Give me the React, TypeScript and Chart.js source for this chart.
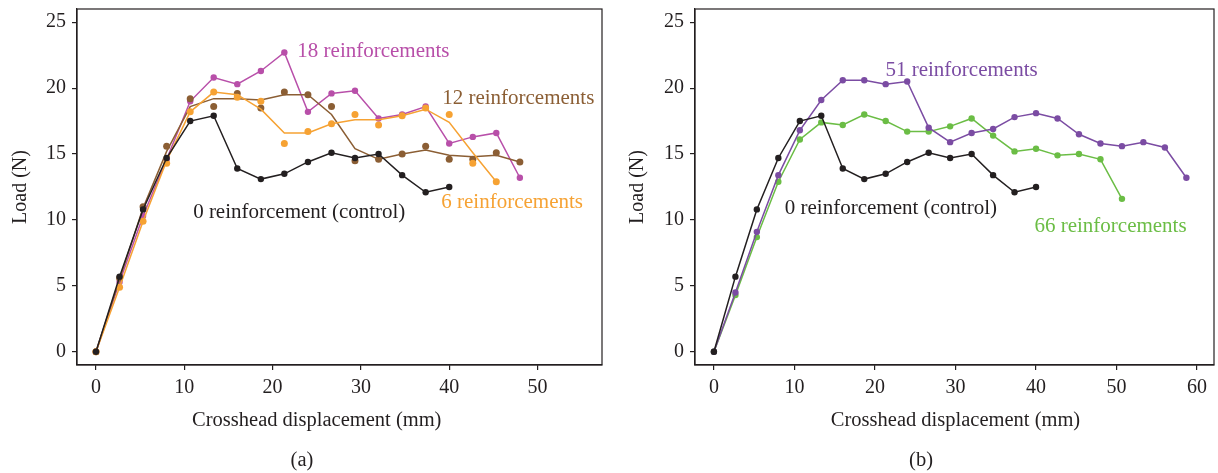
import React, { useEffect, useRef } from "react";
import { Chart, registerables } from "chart.js";

Chart.register(...registerables);

// ---------- data ----------
const xControl = [0, 2.67, 5.33, 8, 10.67, 13.33, 16, 18.67, 21.33, 24, 26.67, 29.33, 32, 34.67, 37.33, 40];
const loadControl = [0, 5.7, 10.8, 14.7, 17.5, 17.9, 13.9, 13.1, 13.5, 14.4, 15.1, 14.7, 15.0, 13.4, 12.1, 12.5];

const x18 = [0, 2.67, 5.33, 8, 10.67, 13.33, 16, 18.67, 21.33, 24, 26.67, 29.33, 32, 34.67, 37.33, 40, 42.67, 45.33, 48];
const load18 = [0, 5.3, 10.3, 14.6, 19.0, 20.8, 20.3, 21.3, 22.7, 18.2, 19.6, 19.8, 17.7, 18.0, 18.6, 15.8, 16.3, 16.6, 13.2];

const x12 = [0, 2.67, 5.33, 8, 10.67, 13.33, 16, 18.67, 21.33, 24, 26.67, 29.33, 32, 34.67, 37.33, 40, 42.67, 45.33, 48];
const load12Dots = [0, 5.6, 11.0, 15.6, 19.2, 18.6, 19.6, 18.5, 19.7, 19.5, 18.6, 14.5, 14.6, 15.0, 15.6, 14.6, 14.6, 15.1, 14.4];
const load12Line = [0, 5.5, 10.9, 15.2, 18.6, 19.2, 19.2, 19.1, 19.5, 19.5, 18.0, 15.4, 14.6, 15.0, 15.3, 14.9, 14.8, 14.9, 14.4];

const x6 = [0, 2.67, 5.33, 8, 10.67, 13.33, 16, 18.67, 21.33, 24, 26.67, 29.33, 32, 34.67, 37.33, 40, 42.67, 45.33];
const load6Dots = [0, 4.9, 9.9, 14.3, 18.2, 19.7, 19.3, 19.0, 15.8, 16.7, 17.3, 18.0, 17.2, 17.9, 18.5, 18.0, 14.3, 12.9];
const load6Line = [0, 4.9, 9.9, 14.5, 18.2, 19.7, 19.5, 18.4, 16.6, 16.6, 17.3, 17.6, 17.6, 17.9, 18.4, 17.4, 15.1, 12.9];

const x51 = [0, 2.67, 5.33, 8, 10.67, 13.33, 16, 18.67, 21.33, 24, 26.67, 29.33, 32, 34.67, 37.33, 40, 42.67, 45.33, 48, 50.67, 53.33, 56, 58.67];
const load51 = [0, 4.5, 9.1, 13.4, 16.8, 19.1, 20.6, 20.6, 20.3, 20.5, 17.0, 15.9, 16.6, 16.9, 17.8, 18.1, 17.7, 16.5, 15.8, 15.6, 15.9, 15.5, 13.2];

const x66 = [0, 2.67, 5.33, 8, 10.67, 13.33, 16, 18.67, 21.33, 24, 26.67, 29.33, 32, 34.67, 37.33, 40, 42.67, 45.33, 48, 50.67];
const load66 = [0, 4.3, 8.7, 12.9, 16.1, 17.4, 17.2, 18.0, 17.5, 16.7, 16.7, 17.1, 17.7, 16.4, 15.2, 15.4, 14.9, 15.0, 14.6, 11.6];

const xTicksA = [0, 10, 20, 30, 40, 50];
const xTicksB = [0, 10, 20, 30, 40, 50, 60];
const yTicks = [0, 5, 10, 15, 20, 25];

// ---------- styles ----------
const INK = "#231f20";
const C_CONTROL = "#231f20";
const C_18 = "#b84fa9";
const C_12 = "#8b5e34";
const C_6 = "#f6a233";
const C_51 = "#7b4ca3";
const C_66 = "#6bbd45";
const FONT = "'Liberation Serif', 'DejaVu Serif', serif";

const pts = (xs: number[], ys: number[]) => xs.map((x, i) => ({ x, y: ys[i] }));

function lineDs(label: string, data: any[], color: string, withPoints = true) {
  return {
    label,
    data,
    borderColor: color,
    backgroundColor: color,
    borderWidth: 1.5,
    pointRadius: withPoints ? 3.2 : 0,
    pointBorderWidth: 0,
    pointBackgroundColor: color,
    tension: 0,
    showLine: true,
  };
}
function dotDs(label: string, data: any[], color: string) {
  return {
    label,
    data,
    borderColor: color,
    backgroundColor: color,
    pointRadius: 3.5,
    pointBorderWidth: 0,
    pointBackgroundColor: color,
    showLine: false,
  };
}

type Note = { text: string; x: number; y: number; color: string };

function makePlugin(notes: Note[], titleCenterValue: number, captionX: number, caption: string) {
  return {
    id: "extras",
    afterDraw(chart: any) {
      const ctx = chart.ctx;
      const { left, right, top, bottom } = chart.chartArea;
      const xs = chart.scales.x;
      const ys = chart.scales.y;
      ctx.save();
      ctx.strokeStyle = INK;
      ctx.lineWidth = 1.2;
      ctx.strokeRect(left, top, right - left, bottom - top);
      ctx.font = `21px ${FONT}`;
      ctx.textBaseline = "middle";
      for (const n of notes) {
        ctx.fillStyle = n.color;
        ctx.textAlign = "left";
        ctx.fillText(n.text, xs.getPixelForValue(n.x), ys.getPixelForValue(n.y));
      }
      ctx.font = `20.5px ${FONT}`;
      ctx.fillStyle = INK;
      ctx.textAlign = "center";
      ctx.fillText("Crosshead displacement (mm)", xs.getPixelForValue(titleCenterValue), 421);
      ctx.fillText(caption, captionX, 461);
      ctx.restore();
    },
  };
}

function baseOptions(xMin: number, xMax: number, xTicks: number[], padLeft: number, padRight: number, titlePad: number) {
  return {
    animation: false,
    responsive: false,
    devicePixelRatio: 1,
    layout: { padding: { left: padLeft, right: padRight, top: 9, bottom: 0 } },
    plugins: { legend: { display: false }, tooltip: { enabled: false } },
    scales: {
      x: {
        type: "linear",
        min: xMin,
        max: xMax,
        afterBuildTicks: (s: any) => {
          s.ticks = xTicks.map((v) => ({ value: v }));
        },
        afterFit: (s: any) => {
          s.height = 108;
          s.paddingLeft = 0;
          s.paddingRight = 0;
        },
        grid: { drawOnChartArea: false, drawTicks: true, tickLength: 5, color: INK, lineWidth: 1.2 },
        border: { display: true, color: INK, width: 1.2 },
        ticks: { color: INK, font: { family: FONT, size: 20 }, padding: 6, maxRotation: 0 },
      },
      y: {
        type: "linear",
        min: -1,
        max: 26,
        afterBuildTicks: (s: any) => {
          s.ticks = yTicks.map((v) => ({ value: v }));
        },
        afterFit: (s: any) => {
          s.width = 77;
          s.paddingTop = 0;
          s.paddingBottom = 0;
        },
        grid: { drawOnChartArea: false, drawTicks: true, tickLength: 5, color: INK, lineWidth: 1.2 },
        border: { display: true, color: INK, width: 1.2 },
        ticks: { color: INK, font: { family: FONT, size: 20 }, padding: 6 },
        title: {
          display: true,
          text: "Load (N)",
          color: INK,
          font: { family: FONT, size: 20 },
          padding: { top: titlePad, bottom: 0 },
        },
      },
    },
  };
}

function Panel({ config, left }: { config: any; left: number }) {
  const ref = useRef<HTMLCanvasElement>(null);
  useEffect(() => {
    if (!ref.current) return;
    const chart = new Chart(ref.current, config);
    return () => chart.destroy();
  }, [config]);
  return (
    <canvas
      ref={ref}
      width={609}
      height={473}
      style={{ position: "absolute", left, top: 0, width: 609, height: 473 }}
    />
  );
}

const configA = {
  type: "scatter",
  data: {
    datasets: [
      lineDs("0 reinforcement (control)", pts(xControl, loadControl), C_CONTROL),
      dotDs("6 reinforcements (data)", pts(x6, load6Dots), C_6),
      lineDs("6 reinforcements", pts(x6, load6Line), C_6, false),
      dotDs("12 reinforcements (data)", pts(x12, load12Dots), C_12),
      lineDs("12 reinforcements", pts(x12, load12Line), C_12, false),
      lineDs("18 reinforcements", pts(x18, load18), C_18),
    ],
  },
  options: baseOptions(-2.15, 57.3, xTicksA, 0, 7, 9),
  plugins: [
    makePlugin(
      [
        { text: "18 reinforcements", x: 22.8, y: 22.8, color: C_18 },
        { text: "12 reinforcements", x: 39.2, y: 19.2, color: C_12 },
        { text: "0 reinforcement (control)", x: 11.0, y: 10.55, color: C_CONTROL },
        { text: "6 reinforcements", x: 39.1, y: 11.35, color: C_6 },
      ],
      25,
      302,
      "(a)"
    ),
  ],
};

const configB = {
  type: "scatter",
  data: {
    datasets: [
      lineDs("0 reinforcement (control)", pts(xControl, loadControl), C_CONTROL),
      lineDs("51 reinforcements", pts(x51, load51), C_51),
      lineDs("66 reinforcements", pts(x66, load66), C_66),
    ],
  },
  options: baseOptions(-2.35, 62.1, xTicksB, 9, 2, 8),
  plugins: [
    makePlugin(
      [
        { text: "51 reinforcements", x: 21.3, y: 21.35, color: C_51 },
        { text: "0 reinforcement (control)", x: 8.8, y: 10.9, color: C_CONTROL },
        { text: "66 reinforcements", x: 39.8, y: 9.5, color: C_66 },
      ],
      30,
      312,
      "(b)"
    ),
  ],
};

export default function App() {
  return (
    <div style={{ position: "absolute", left: 0, top: 0, width: 1218, height: 473, background: "#fff" }}>
      <Panel config={configA} left={0} />
      <Panel config={configB} left={609} />
    </div>
  );
}
